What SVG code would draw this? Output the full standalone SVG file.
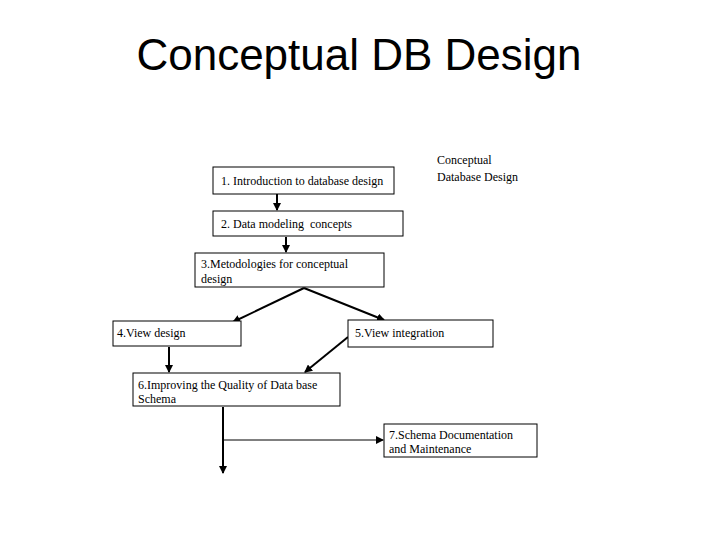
<svg xmlns="http://www.w3.org/2000/svg" width="720" height="540" viewBox="0 0 720 540">
<style>
.box{fill:#fff;stroke:#000;stroke-width:1}
.t{font-family:"Liberation Serif",serif;font-size:12px;fill:#000}
.c{stroke:#000;stroke-width:2;fill:none}
.c1{stroke:#000;stroke-width:1;fill:none}
</style>
<defs>
<marker id="ah" markerWidth="8" markerHeight="8" refX="7" refY="4" orient="auto" markerUnits="userSpaceOnUse">
<path d="M0,0 L8,4 L0,8 Z" fill="#000"/>
</marker>
</defs>
<rect width="720" height="540" fill="#fff"/>
<text x="359" y="70" text-anchor="middle" font-family="Liberation Sans,sans-serif" font-size="44" fill="#000">Conceptual DB Design</text>
<g id="label">
<text class="t" x="437" y="164">Conceptual</text>
<text class="t" x="437" y="181">Database Design</text>
</g>
<g id="connectors">
<line class="c" x1="277" y1="194" x2="277" y2="210" marker-end="url(#ah)"/>
<line class="c" x1="286" y1="237" x2="286" y2="252" marker-end="url(#ah)"/>
<line class="c" x1="304" y1="288" x2="233" y2="322" marker-end="url(#ah)"/>
<line class="c" x1="304" y1="288" x2="384" y2="320" marker-end="url(#ah)"/>
<line class="c" x1="169" y1="347" x2="169" y2="372" marker-end="url(#ah)"/>
<line class="c" x1="348" y1="337" x2="305" y2="372" marker-end="url(#ah)"/>
<line class="c" x1="223" y1="407" x2="223" y2="473" marker-end="url(#ah)"/>
<line class="c1" x1="223" y1="440" x2="383" y2="440" marker-end="url(#ah)"/>
</g>
<g id="n1"><rect class="box" x="213" y="167" width="181" height="27"/><text class="t" x="221" y="185">1. Introduction to database design</text></g>
<g id="n2"><rect class="box" x="213" y="211" width="190" height="25"/><text class="t" x="221" y="228" xml:space="preserve">2. Data modeling  concepts</text></g>
<g id="n3"><rect class="box" x="195" y="253" width="189" height="34"/><text class="t" x="201" y="268">3.Metodologies for conceptual</text><text class="t" x="201" y="283">design</text></g>
<g id="n4"><rect class="box" x="113" y="321" width="128" height="25"/><text class="t" x="117" y="337">4.View design</text></g>
<g id="n5"><rect class="box" x="348" y="320" width="145" height="27"/><text class="t" x="355" y="337">5.View integration</text></g>
<g id="n6"><rect class="box" x="133" y="373" width="207" height="33"/><text class="t" x="138" y="389">6.Improving the Quality of Data base</text><text class="t" x="138" y="403">Schema</text></g>
<g id="n7"><rect class="box" x="384" y="424" width="153" height="33"/><text class="t" x="389" y="439">7.Schema Documentation</text><text class="t" x="389" y="453">and Maintenance</text></g>
</svg>
